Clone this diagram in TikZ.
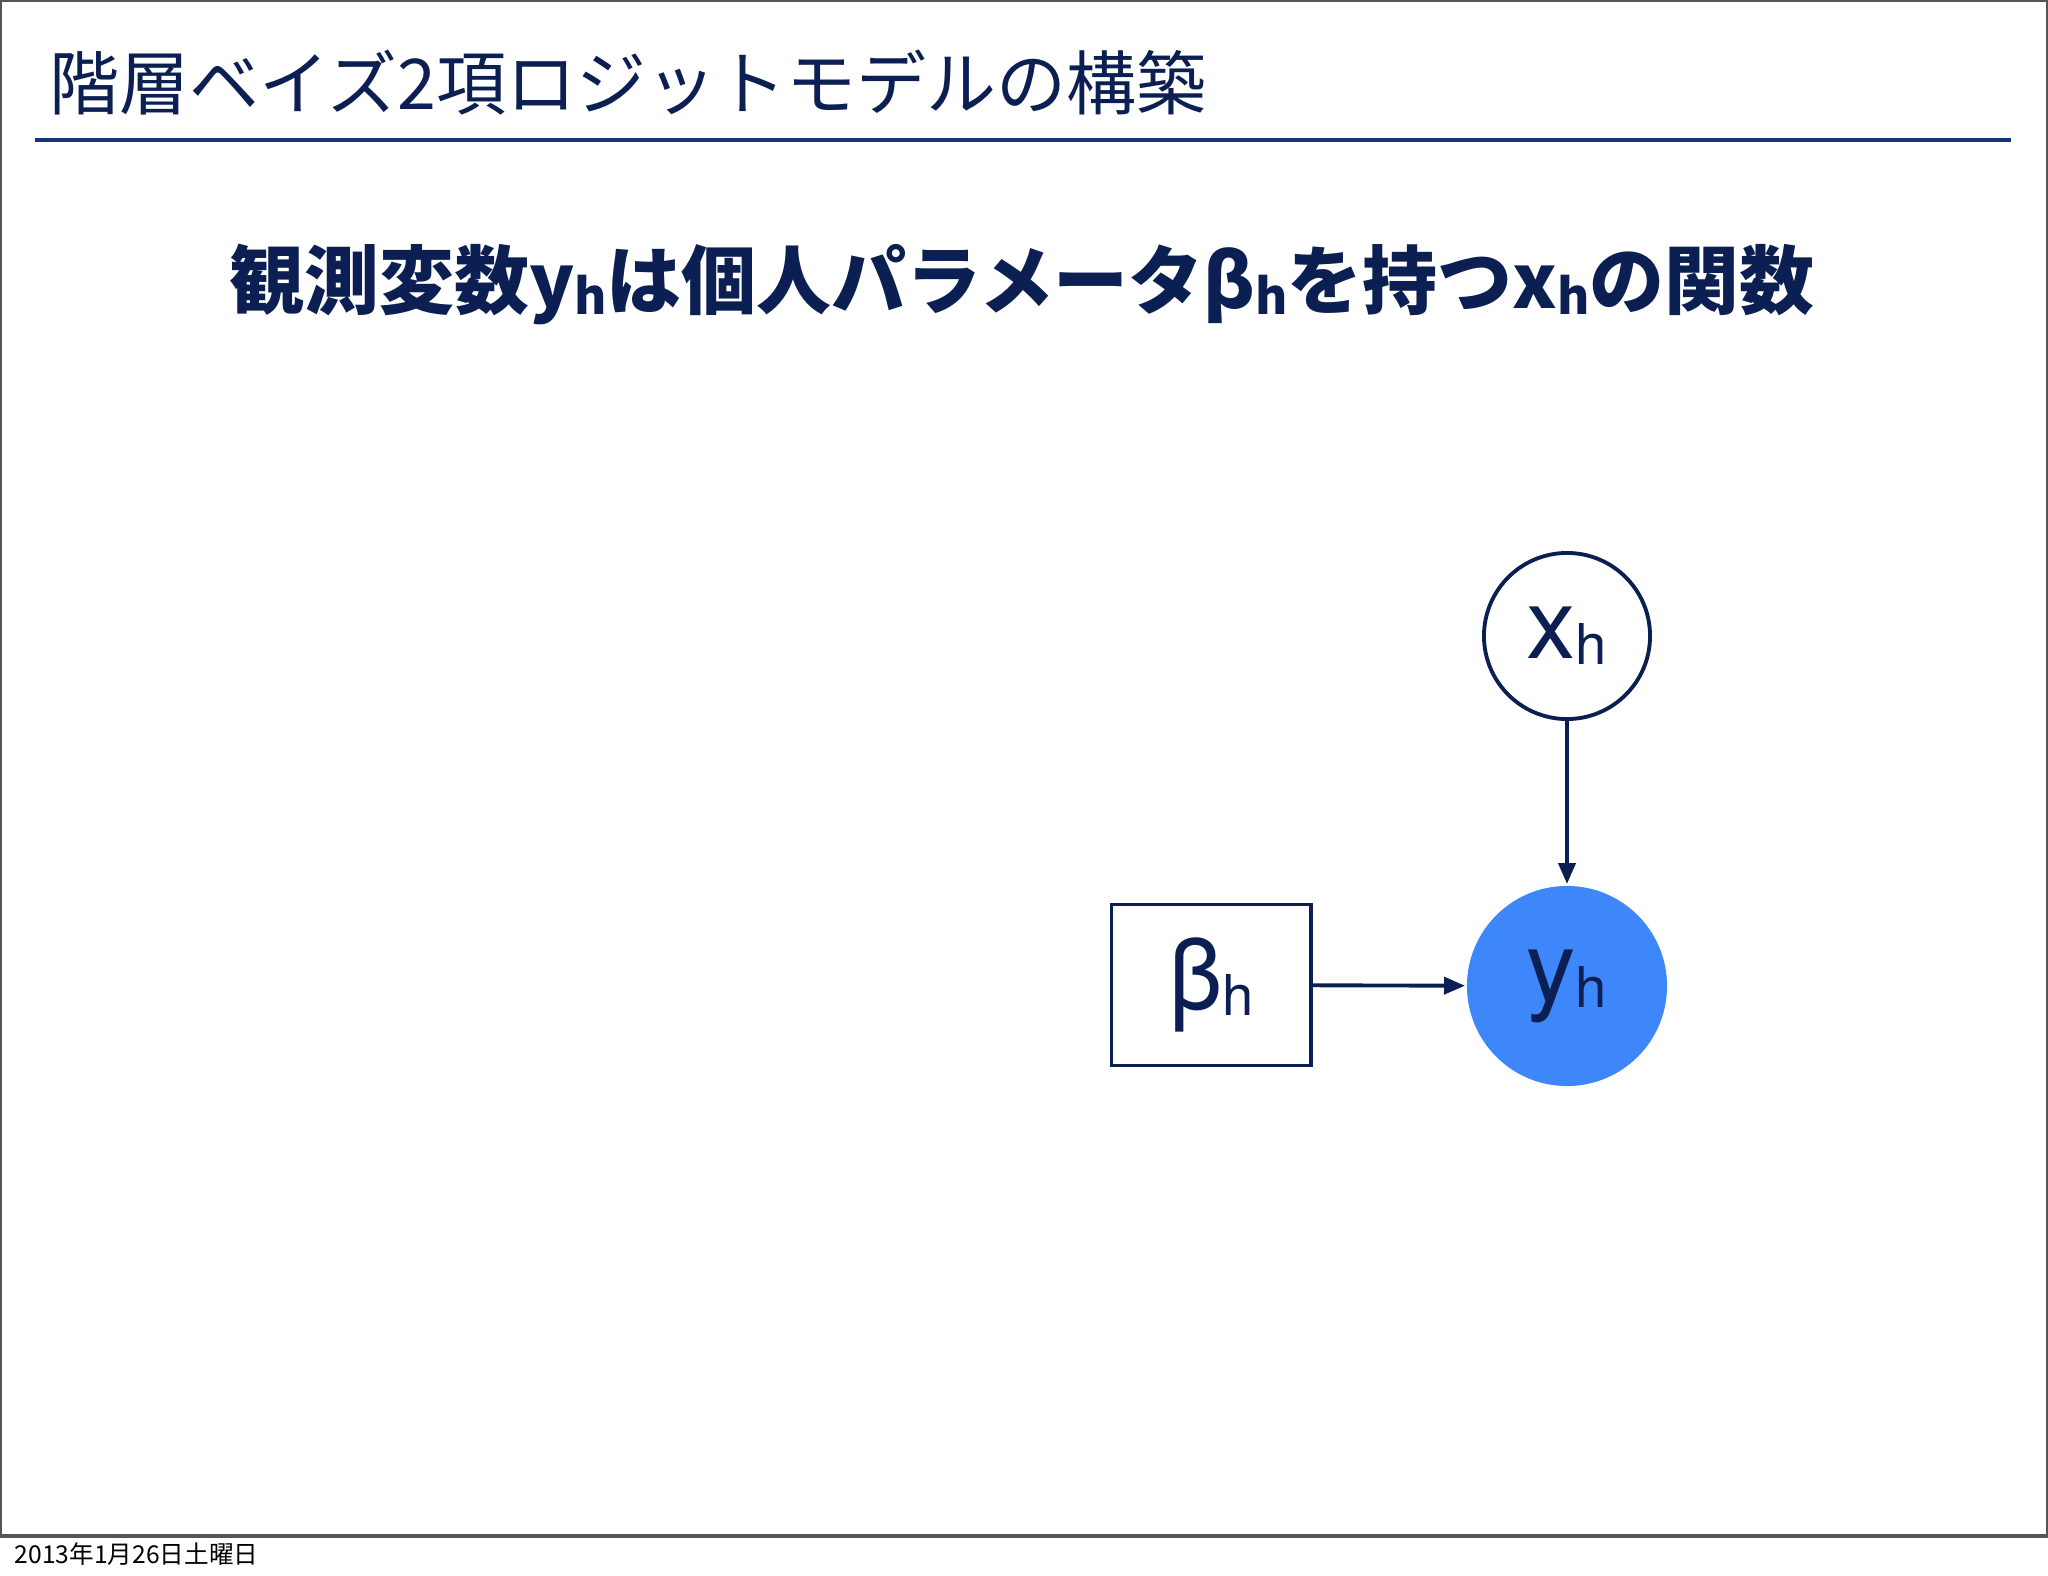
\documentclass[tikz,border=0pt]{standalone}
\usepackage{fontspec}
\setmainfont{TeX Gyre Heros}
\newfontfamily\jp{Noto Sans CJK JP}
\usetikzlibrary{arrows.meta}

\definecolor{navy}{RGB}{12,31,82}
\definecolor{rulecol}{RGB}{24,52,118}
\definecolor{yblue}{RGB}{62,135,250}
\definecolor{framegray}{RGB}{85,85,85}

% small lowered index letter
\newcommand{\idx}[2][16pt]{\raisebox{-0.06cm}{\fontsize{#1}{#1}\selectfont #2}}

\begin{document}
\begin{tikzpicture}[x=0.01cm, y=-0.01cm, line width=1.1pt,
  var/.style={draw=navy, circle, minimum size=1.66cm, inner sep=0pt, text=navy,
    font=\fontsize{28pt}{28pt}\selectfont},
  obs/.style={circle, fill=yblue, minimum size=2cm, inner sep=0pt, text=navy,
    font=\fontsize{28pt}{28pt}\selectfont},
  par/.style={draw=navy, rectangle, minimum width=1.99cm, minimum height=1.61cm,
    inner sep=0pt, text=navy, font=\fontsize{28pt}{28pt}\selectfont},
  link/.style={draw=navy, -{Triangle[length=2.1mm, width=1.7mm]}}]
\useasboundingbox (0,0) rectangle (2048,1576);

% slide frame
\draw[framegray, line width=0.6pt] (1,1) rectangle (2047,1536);
\draw[framegray, line width=1.4pt] (0,1536) -- (2048,1536);

% title and rule
\node[anchor=base west, text=navy, inner sep=0pt,
  font={\jp\fontsize{19.9pt}{20pt}\selectfont}] (title) at (48,110)
  {階層ベイズ2項ロジットモデルの構築};
\draw[rulecol, line width=1.1pt] (35,140) -- (2011,140);

% heading
\node[anchor=base, text=navy, inner sep=0pt,
  font={\jp\bfseries\fontsize{21.3pt}{22pt}\selectfont}] (head) at (1022,308)
  {観測変数y\idx[14pt]{h}は個人パラメータβ\idx[14pt]{h}を持つx\idx[14pt]{h}の関数};

% graph
\node[var] (x) at (1567,636) {x\idx{h}};
\node[obs] (y) at (1567,986) {y\idx{h}};
\node[par] (beta) at (1211,985) {β\idx{h}};

\draw[link] (x) -- (y);
\draw[link] (beta) -- (y);

% date
\node[anchor=base west, inner sep=0pt,
  font={\jp\fontsize{7pt}{7pt}\selectfont}] (date) at (13,1563)
  {2013年1月26日土曜日};

\end{tikzpicture}
\end{document}
